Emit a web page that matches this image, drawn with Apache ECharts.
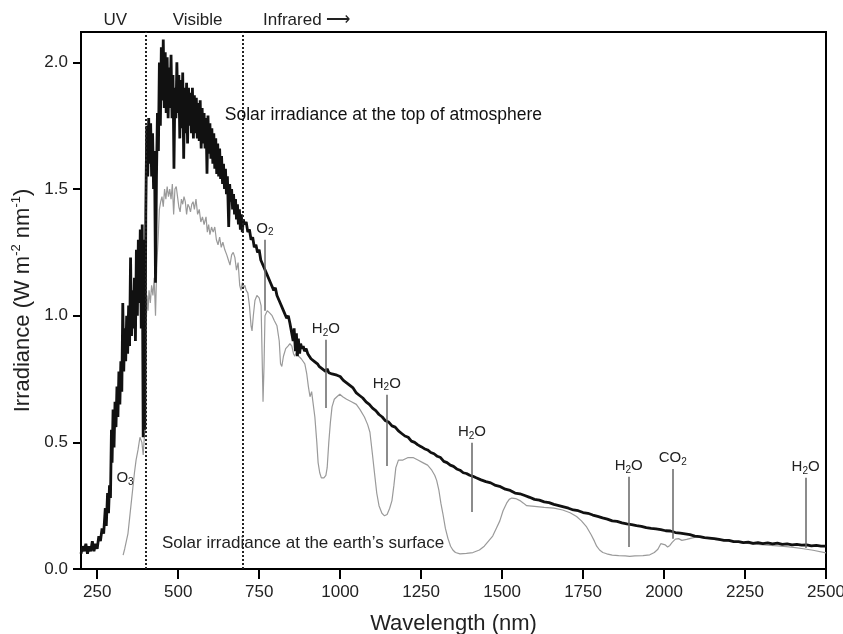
<!DOCTYPE html>
<html>
<head>
<meta charset="utf-8">
<script src="https://cdn.jsdelivr.net/npm/echarts@6/dist/echarts.min.js"></script>
<style>
html, body { margin: 0; padding: 0; background: #fff; }
#chart { width: 843px; height: 634px; }
</style>
</head>
<body>
<div id="chart"></div>
<script>
// solar irradiance at the top of atmosphere [nm, W m-2 nm-1]
var toaPoints = [
  [200,0.06],[205,0.09],[210,0.07],[215,0.10],[220,0.06],[225,0.09],[230,0.07],[235,0.11],
  [240,0.07],[245,0.10],[250,0.08],[255,0.13],[260,0.11],[265,0.16],[270,0.14],[275,0.24],
  [278,0.17],[282,0.30],[285,0.22],[288,0.33],[291,0.28],[294,0.55],[296,0.42],[299,0.63],
  [302,0.48],[305,0.66],[308,0.56],[311,0.72],[314,0.60],[317,0.78],[320,0.65],[323,0.82],
  [326,0.70],[329,1.05],[332,0.78],[335,0.95],[338,0.82],[341,1.00],[344,0.85],[347,1.04],
  [350,0.88],[353,1.23],[356,0.92],[359,1.10],[362,0.95],[365,1.15],[368,0.90],[371,1.26],
  [374,1.00],[377,1.30],[380,1.05],[383,1.34],[386,0.95],[389,1.36],[392,0.52],[395,1.30],
  [397,0.55],[400,1.40],[403,1.75],[406,1.55],[409,1.78],[412,1.60],[415,1.76],[418,1.55],
  [421,1.72],[424,1.50],[427,1.65],[430,1.13],[433,1.55],[436,1.80],[439,1.65],[442,2.00],
  [445,1.75],[448,2.06],[451,1.85],[454,2.09],[457,1.82],[460,2.04],[463,1.80],[466,2.02],
  [469,1.78],[472,1.98],[475,1.82],[478,2.03],[481,1.78],[484,1.95],[487,1.58],[490,1.90],
  [493,1.78],[496,2.00],[499,1.80],[502,1.95],[505,1.70],[508,1.93],[511,1.74],[514,1.96],
  [517,1.62],[520,1.90],[523,1.72],[526,1.92],[529,1.68],[532,1.90],[535,1.75],[538,1.88],
  [541,1.72],[544,1.90],[547,1.70],[550,1.87],[553,1.72],[556,1.86],[559,1.70],[562,1.84],
  [565,1.69],[568,1.85],[571,1.66],[574,1.82],[577,1.68],[580,1.80],[583,1.66],[586,1.78],
  [589,1.56],[592,1.79],[595,1.64],[598,1.76],[601,1.62],[604,1.74],[607,1.60],[610,1.72],
  [613,1.58],[616,1.70],[619,1.56],[622,1.68],[625,1.55],[628,1.66],[631,1.54],[634,1.63],
  [637,1.52],[640,1.60],[643,1.50],[646,1.58],[649,1.48],[652,1.55],[656,1.35],[659,1.52],
  [662,1.45],[665,1.50],[668,1.42],[671,1.48],[674,1.40],[677,1.46],[680,1.38],[683,1.44],
  [686,1.36],[689,1.42],[692,1.34],[695,1.40],[698,1.33],[701,1.38],[705,1.36],[710,1.37],
  [715,1.33],[720,1.34],[725,1.30],[730,1.31],[735,1.27],[740,1.28],[745,1.25],[750,1.26],
  [755,1.22],[760,1.22],[765,1.19],[770,1.19],[775,1.16],[780,1.16],[785,1.13],[790,1.13],
  [795,1.10],[800,1.11],[805,1.08],[810,1.08],[815,1.05],[820,1.05],[825,1.02],[830,1.02],
  [835,0.99],[840,1.00],[845,0.97],[850,0.97],[855,0.90],[858,0.95],[862,0.86],[865,0.93],
  [868,0.84],[871,0.91],[875,0.85],[878,0.89],[882,0.87],[886,0.88],[890,0.86],[895,0.87],
  [900,0.85],[905,0.855],[910,0.83],[915,0.835],[920,0.82],[925,0.815],[930,0.81],[935,0.80],
  [940,0.805],[945,0.79],[950,0.795],[955,0.78],[960,0.79],[965,0.775],[970,0.78],[975,0.77],
  [980,0.775],[990,0.765],[1000,0.76],[1010,0.745],[1020,0.735],[1030,0.725],[1040,0.715],
  [1050,0.695],[1060,0.685],[1070,0.675],[1080,0.66],[1090,0.65],[1100,0.635],[1110,0.625],
  [1120,0.61],[1130,0.60],[1140,0.585],[1150,0.58],[1160,0.565],[1170,0.56],[1180,0.545],
  [1190,0.535],[1200,0.525],[1210,0.52],[1220,0.505],[1230,0.50],[1240,0.49],[1250,0.483],
  [1260,0.475],[1270,0.47],[1280,0.46],[1290,0.455],[1300,0.445],[1310,0.44],[1320,0.425],
  [1330,0.42],[1340,0.41],[1350,0.405],[1360,0.395],[1370,0.39],[1380,0.38],[1390,0.377],
  [1400,0.37],[1410,0.366],[1420,0.36],[1435,0.352],[1450,0.345],[1465,0.34],[1480,0.33],
  [1495,0.325],[1510,0.315],[1525,0.31],[1540,0.30],[1555,0.297],[1570,0.29],[1585,0.283],
  [1600,0.275],[1615,0.272],[1630,0.265],[1645,0.262],[1660,0.255],[1675,0.25],[1690,0.245],
  [1705,0.24],[1720,0.233],[1735,0.23],[1750,0.223],[1765,0.22],[1780,0.213],[1795,0.208],
  [1810,0.202],[1825,0.197],[1840,0.19],[1855,0.188],[1870,0.182],[1885,0.178],[1900,0.175],
  [1915,0.171],[1930,0.168],[1945,0.163],[1960,0.16],[1975,0.158],[1990,0.155],[2005,0.151],
  [2020,0.15],[2035,0.144],[2050,0.142],[2065,0.139],[2080,0.136],[2095,0.13],[2110,0.128],
  [2125,0.124],[2140,0.122],[2155,0.12],[2170,0.117],[2185,0.113],[2200,0.113],[2215,0.108],
  [2230,0.108],[2245,0.104],[2260,0.106],[2275,0.101],[2290,0.104],[2305,0.10],[2320,0.103],
  [2335,0.099],[2350,0.102],[2365,0.097],[2380,0.099],[2395,0.095],[2410,0.097],[2425,0.094],
  [2440,0.095],[2455,0.091],[2470,0.093],[2485,0.09],[2500,0.09]
];

// solar irradiance at the earth's surface
var surfacePoints = [
  [330,0.055],[335,0.08],[340,0.11],[345,0.14],[350,0.20],[355,0.26],[360,0.32],[365,0.38],
  [370,0.43],[376,0.47],[382,0.52],[388,0.50],[392,0.45],[396,0.53],[399,0.55],[401,0.95],
  [404,1.08],[407,1.02],[410,1.10],[414,1.05],[418,1.12],[422,1.08],[426,1.15],[430,1.00],
  [434,1.20],[438,1.30],[442,1.42],[446,1.45],[450,1.47],[454,1.43],[458,1.50],[462,1.46],
  [466,1.51],[470,1.47],[474,1.50],[478,1.46],[482,1.52],[486,1.40],[490,1.50],[494,1.51],
  [498,1.47],[502,1.43],[506,1.41],[510,1.46],[514,1.44],[518,1.47],[522,1.45],[526,1.40],
  [530,1.44],[534,1.43],[538,1.41],[542,1.44],[546,1.45],[550,1.42],[555,1.46],[560,1.40],
  [565,1.42],[570,1.37],[575,1.39],[580,1.36],[586,1.39],[590,1.33],[594,1.36],[598,1.32],
  [603,1.35],[608,1.33],[613,1.35],[618,1.30],[623,1.28],[628,1.31],[633,1.27],[638,1.29],
  [644,1.26],[650,1.24],[655,1.22],[660,1.20],[665,1.24],[670,1.25],[675,1.23],[680,1.18],
  [685,1.21],[690,1.12],[694,1.10],[698,1.13],[702,1.11],[706,1.12],[710,1.10],[715,1.09],
  [720,1.04],[725,0.96],[728,0.94],[732,1.00],[737,1.06],[743,1.08],[750,1.07],[756,1.04],
  [759,0.85],[762,0.66],[765,0.80],[768,1.00],[775,1.02],[783,1.01],[790,1.00],[797,0.98],
  [805,0.96],[812,0.90],[816,0.81],[820,0.80],[825,0.84],[832,0.87],[839,0.88],[845,0.89],
  [851,0.88],[856,0.85],[860,0.84],[866,0.86],[872,0.84],[880,0.83],[891,0.81],[897,0.77],
  [902,0.72],[907,0.68],[912,0.70],[916,0.66],[922,0.60],[928,0.50],[932,0.42],[937,0.38],
  [942,0.36],[950,0.36],[956,0.37],[960,0.40],[965,0.50],[970,0.58],[975,0.64],[982,0.67],
  [990,0.68],[999,0.69],[1008,0.68],[1020,0.67],[1035,0.66],[1050,0.65],[1061,0.63],
  [1075,0.60],[1085,0.57],[1092,0.54],[1100,0.45],[1106,0.38],[1113,0.30],[1120,0.25],
  [1129,0.22],[1137,0.21],[1145,0.215],[1153,0.24],[1160,0.27],[1166,0.33],[1172,0.40],
  [1180,0.43],[1194,0.43],[1210,0.44],[1225,0.44],[1240,0.43],[1255,0.42],[1270,0.41],
  [1283,0.39],[1292,0.37],[1298,0.35],[1305,0.31],[1311,0.26],[1317,0.22],[1325,0.16],
  [1333,0.12],[1341,0.09],[1348,0.075],[1356,0.065],[1370,0.06],[1390,0.062],[1410,0.065],
  [1430,0.075],[1445,0.09],[1458,0.11],[1471,0.13],[1482,0.16],[1493,0.19],[1503,0.23],
  [1514,0.26],[1522,0.275],[1530,0.28],[1542,0.278],[1555,0.27],[1566,0.26],[1576,0.25],
  [1600,0.247],[1630,0.243],[1660,0.24],[1687,0.233],[1710,0.222],[1730,0.207],[1745,0.19],
  [1761,0.166],[1775,0.135],[1785,0.11],[1792,0.09],[1801,0.075],[1811,0.065],[1823,0.06],
  [1840,0.055],[1860,0.053],[1880,0.052],[1894,0.05],[1910,0.052],[1935,0.053],[1956,0.056],
  [1970,0.065],[1981,0.078],[1990,0.10],[1996,0.105],[2004,0.095],[2011,0.087],[2018,0.093],
  [2025,0.105],[2035,0.118],[2045,0.12],[2055,0.113],[2070,0.117],[2085,0.122],[2101,0.127],
  [2130,0.122],[2160,0.116],[2190,0.112],[2220,0.107],[2250,0.102],[2280,0.098],[2310,0.095],
  [2340,0.092],[2370,0.089],[2400,0.085],[2430,0.08],[2460,0.074],[2500,0.064]
];

// absorption bands
var absorbers   = ['O2', 'H2O', 'H2O', 'H2O', 'H2O', 'CO2', 'H2O'];
var absorbNm    = [768, 956, 1144, 1407, 1891, 2027, 2437];
var absorbLow   = [1.02, 0.636, 0.407, 0.225, 0.087, 0.119, 0.083];
var absorbHigh  = [1.30, 0.905, 0.688, 0.498, 0.364, 0.395, 0.36];

var regionEdges = [400, 700];
var regionNames = ['UV', 'Visible', 'Infrared \u27F6'];
var regionNm    = [306, 560, 762];

var xTicks = [250, 500, 750, 1000, 1250, 1500, 1750, 2000, 2250, 2500];
var yStep  = 0.5;

var FONT = 'Liberation Sans, Arial, Helvetica, sans-serif';

function chemLabel(name)
{
    // digits become subscripts
    return name.replace(/([A-Za-z]+)|(\d+)/g, function (m, letters, digits) {
        return letters ? '{a|' + letters + '}' : '{s|' + digits + '}';
    });
}

var chemRich = {
    a: { fontSize: 15, color: '#222', fontFamily: FONT, lineHeight: 18 },
    s: { fontSize: 10, color: '#222', fontFamily: FONT, lineHeight: 10, verticalAlign: 'bottom' }
};

var absorbLines = [];
for (var i = 0; i < absorbers.length; ++i)
{
    absorbLines.push([
        { coord: [absorbNm[i], absorbLow[i]] },
        {
            coord: [absorbNm[i], absorbHigh[i]],
            label: { show: true, position: 'end', distance: 2, formatter: chemLabel(absorbers[i]), rich: chemRich }
        }
    ]);
}

var chart = echarts.init(document.getElementById('chart'));

var option = {
    animation: false,
    backgroundColor: '#fff',
    grid: {
        left: 81, right: 17, top: 32, bottom: 65,
        outerBoundsMode: 'none',
        show: true, borderColor: '#000', borderWidth: 2
    },
    xAxis: {
        type: 'value',
        min: 200, max: 2500,
        name: 'Wavelength (nm)',
        nameLocation: 'middle',
        nameGap: 44,
        nameTextStyle: { fontSize: 22, color: '#222', fontFamily: FONT },
        axisLine: { show: true, onZero: false, lineStyle: { color: '#000', width: 2 } },
        axisTick: { show: true, length: 10, lineStyle: { color: '#000', width: 2 }, customValues: xTicks },
        axisLabel: {
            fontSize: 17, color: '#222', fontFamily: FONT, margin: 15, customValues: xTicks,
            formatter: function (v) { return String(v); }
        },
        splitLine: { show: false }
    },
    yAxis: {
        type: 'value',
        min: 0, max: 2.12, interval: yStep,
        name: '{n|Irradiance (W m}{p|-2}{n| nm}{p|-1}{n|)}',
        nameLocation: 'middle',
        nameRotate: 90,
        nameGap: 43,
        nameTextStyle: {
            rich: {
                n: { fontSize: 22, color: '#222', fontFamily: FONT, lineHeight: 26 },
                p: { fontSize: 13, color: '#222', fontFamily: FONT, lineHeight: 13, verticalAlign: 'top' }
            }
        },
        axisLine: { show: true, onZero: false, lineStyle: { color: '#000', width: 2 } },
        axisTick: { show: true, length: 8, lineStyle: { color: '#000', width: 2 } },
        axisLabel: {
            fontSize: 17, color: '#222', fontFamily: FONT, margin: 13, showMaxLabel: false,
            formatter: function (v) { return v.toFixed(1); }
        },
        splitLine: { show: false }
    },
    series: [
        {
            name: 'surface',
            type: 'line',
            data: surfacePoints,
            showSymbol: false,
            lineStyle: { color: '#9a9a9a', width: 1.2 },
            z: 2,
            markLine: {
                silent: true,
                symbol: 'none',
                lineStyle: { color: '#666', width: 1.5, type: 'solid' },
                data: absorbLines
            },
            markPoint: {
                silent: true,
                symbol: 'circle',
                symbolSize: 0,
                data: [
                    {
                        coord: [336, 0.36],
                        label: { show: true, formatter: chemLabel('O3'), rich: chemRich }
                    },
                    {
                        coord: [450, 0.103],
                        label: {
                            show: true, position: 'right', distance: 0,
                            formatter: 'Solar irradiance at the earth\u2019s surface',
                            fontSize: 17, color: '#222', fontFamily: FONT
                        }
                    }
                ]
            }
        },
        {
            name: 'top',
            type: 'line',
            data: toaPoints,
            showSymbol: false,
            lineStyle: { color: '#111', width: 2.8 },
            z: 3,
            markLine: {
                silent: true,
                symbol: 'none',
                label: { show: false },
                lineStyle: { color: '#222', width: 2, type: 'dotted' },
                data: regionEdges.map(function (v) { return { xAxis: v }; })
            },
            markPoint: {
                silent: true,
                symbol: 'circle',
                symbolSize: 0,
                data: [
                    {
                        coord: [644, 1.79],
                        label: {
                            show: true, position: 'right', distance: 0,
                            formatter: 'Solar irradiance at the top of atmosphere',
                            fontSize: 17.5, color: '#111', fontFamily: FONT
                        }
                    }
                ]
            }
        }
    ]
};

chart.setOption(option);

// region names above the frame
var graphics = [];
for (var k = 0; k < regionNames.length; ++k)
{
    var px = chart.convertToPixel({ gridIndex: 0 }, [regionNm[k], 0])[0];
    graphics.push({
        type: 'text',
        x: px,
        y: 20,
        style: {
            text: regionNames[k],
            fontSize: 17,
            fontFamily: FONT,
            fill: '#222',
            align: k === 2 ? 'left' : 'center',
            verticalAlign: 'middle'
        }
    });
}
chart.setOption({ graphic: graphics });

window.addEventListener('resize', function ()
{
    chart.resize();
});
</script>
</body>
</html>
